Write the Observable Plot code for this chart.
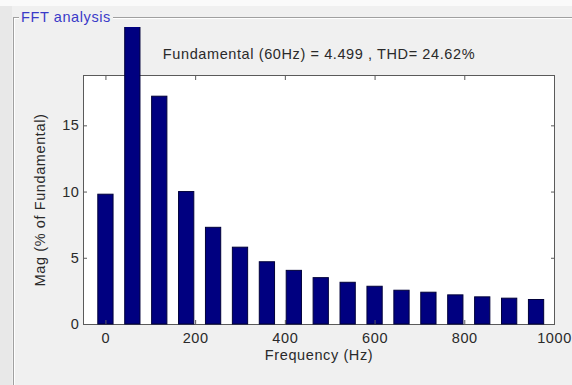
<!DOCTYPE html>
<html>
<head>
<meta charset="utf-8">
<script src="https://cdn.jsdelivr.net/npm/d3@7"></script>
<script src="https://cdn.jsdelivr.net/npm/@observablehq/plot@0.6"></script>
<style>
  html, body { margin: 0; padding: 0; }
  body { width: 572px; height: 385px; background: #f0f0f0; position: relative; overflow: hidden;
         font-family: "Liberation Sans", Arial, sans-serif; }
  #topstrip { position: absolute; left: 0; top: 0; width: 572px; height: 6px; background: #fafafa; }
  #leftstrip { position: absolute; left: 0; top: 6px; width: 12px; height: 379px; background: #e8e8e8; }
  #panel { position: absolute; left: 13px; top: 17px; width: 600px; height: 400px;
           border-left: 1px solid #a0a0a0; border-top: 1px solid #a0a0a0; box-shadow: inset 1px 1px 0 #ffffff; }
  #panelLabel { position: absolute; left: 19px; top: 8px; padding: 0 2px; background: #f0f0f0;
                color: #3a3ac8; font-size: 14.5px; line-height: 18px; letter-spacing: 0.6px; }
  #chart { position: absolute; left: 0; top: 27px; width: 572px; height: 358px; overflow: hidden; }
  #chart svg text { letter-spacing: 0.6px; }
</style>
</head>
<body>
<div id="topstrip"></div>
<div id="leftstrip"></div>
<div id="panel"></div>
<div id="panelLabel">FFT analysis</div>
<div id="chart"></div>
<script>
// Harmonic frequencies (Hz)
const freqs = [0, 60, 120, 180, 240, 300, 360, 420, 480, 540, 600, 660, 720, 780, 840, 900, 960];
// Magnitude (% of fundamental)
const mags = [9.8, 100, 17.2, 10.0, 7.3, 5.8, 4.7, 4.05, 3.5, 3.15, 2.85, 2.55, 2.4, 2.2, 2.05, 1.95, 1.85];
// Tick labels
const xTicks = [0, 200, 400, 600, 800, 1000];
const yTicks = [0, 5, 10, 15];
const titleText = "Fundamental (60Hz) = 4.499 , THD= 24.62%";
const xLabel = "Frequency (Hz)";
const yLabel = "Mag (% of Fundamental)";

const data = freqs.map((f, i) => ({f, mag: mags[i]}));
const halfWidth = 17;

const chart = Plot.plot({
  width: 572,
  height: 358,
  marginLeft: 83,
  marginRight: 18,
  marginTop: 48,
  marginBottom: 61,
  style: {background: "transparent", overflow: "hidden", fontFamily: "'Liberation Sans', Arial, sans-serif", fontSize: "14.5px", color: "#2a2a2a"},
  x: {domain: [-50, 1000]},
  y: {domain: [0, 18.8]},
  marks: [
    Plot.frame({fill: "white", stroke: "#5a5a5a"}),
    Plot.rectY(data, {x1: d => d.f - halfWidth, x2: d => d.f + halfWidth, y1: 0, y2: "mag", fill: "#000080", stroke: "#00003a", strokeWidth: 1}),
    Plot.axisX({ticks: xTicks, tickSize: -4, tickPadding: 12, tickFormat: d => String(d), label: null, stroke: "#5a5a5a"}),
    Plot.axisX({anchor: "top", ticks: xTicks, tickSize: -4, tickFormat: () => "", label: null, stroke: "#5a5a5a"}),
    Plot.axisY({ticks: yTicks, tickSize: -4, tickPadding: 8, tickFormat: d => String(d), label: null, stroke: "#5a5a5a"}),
    Plot.axisY({anchor: "right", ticks: yTicks, tickSize: -4, tickFormat: () => "", label: null, stroke: "#5a5a5a"}),
    Plot.text([titleText], {frameAnchor: "top", dy: -21, lineAnchor: "middle", fill: "#2a2a2a", fontSize: 14.5}),
    Plot.text([xLabel], {frameAnchor: "bottom", dy: 31, lineAnchor: "middle", fill: "#2a2a2a", fontSize: 14.5}),
    Plot.text([yLabel], {frameAnchor: "left", dx: -43, rotate: -90, textAnchor: "middle", lineAnchor: "middle", fill: "#2a2a2a", fontSize: 14.5})
  ]
});
document.getElementById("chart").appendChild(chart);
</script>
</body>
</html>
